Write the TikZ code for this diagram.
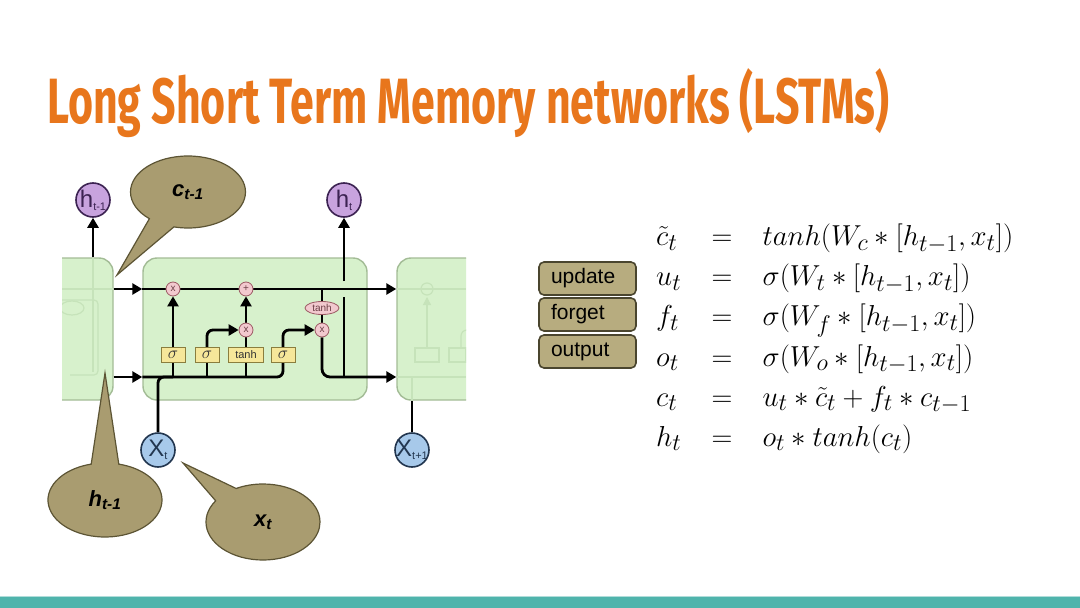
\documentclass[tikz,border=0pt]{standalone}
\usepackage{fontspec}
\usepackage{tikz}
\usetikzlibrary{arrows.meta,positioning,calc,shapes.geometric,shapes.callouts}
\setmainfont{Liberation Sans}
\newfontfamily\titlefont{Fira Sans}
\definecolor{ttlorange}{HTML}{E8761C}
\definecolor{barteal}{HTML}{4FB4AC}
\definecolor{cellfill}{HTML}{D7F1CC}
\definecolor{celledge}{HTML}{A3BC96}
\definecolor{cellfaint}{HTML}{C6E3BA}
\definecolor{opfill}{HTML}{F2C9CE}
\definecolor{opedge}{HTML}{9C5A64}
\definecolor{gatefill}{HTML}{F6E79A}
\definecolor{gateedge}{HTML}{8A7E3E}
\definecolor{hfill}{HTML}{C8A3DE}
\definecolor{hedge}{HTML}{3C2352}
\definecolor{xfill}{HTML}{A7C9EA}
\definecolor{xedge}{HTML}{22364F}
\definecolor{bubfill}{HTML}{A99C70}
\definecolor{bubedge}{HTML}{5C5434}
\definecolor{tagfill}{HTML}{B7AC7F}
\definecolor{tagedge}{HTML}{4A452E}
\pgfdeclarelayer{cells}
\pgfdeclarelayer{wires}
\pgfsetlayers{cells,wires,main}
% letter with a small subscript, kept from widening the circle
\newcommand{\circtxt}[2]{\makebox[0pt]{#1\raisebox{-3pt}{\fontsize{11}{11}\selectfont #2}}}
\newcommand{\sig}{{\fontsize{16}{16}\selectfont$\sigma$}}

\begin{document}
\begin{tikzpicture}[x=1pt, y=-1pt,
  % LSTM cells and the wiring inside the middle one
  cellbox/.style={draw=celledge, line width=1.4pt, fill=cellfill, rounded corners=14pt,
    minimum height=142pt, inner sep=0pt},
  faint/.style={draw=cellfaint, line width=1.2pt},
  wire/.style={line width=2.8pt, draw=black},
  arr/.style={wire, -{Triangle[length=10pt, width=11pt]}},
  opnode/.style={circle, draw=opedge, fill=opfill, line width=0.8pt, inner sep=0pt,
    minimum size=14pt, font=\fontsize{10}{10}\selectfont\color{opedge!70!black}},
  tanhnode/.style={ellipse, draw=opedge, fill=opfill, line width=0.8pt, inner sep=0pt,
    minimum width=34pt, minimum height=13pt, font=\fontsize{10}{10}\selectfont\color{opedge!70!black}},
  gatebox/.style={rectangle, draw=gateedge, fill=gatefill, line width=0.9pt, inner sep=0pt,
    minimum width=24pt, minimum height=15pt, font=\fontsize{11}{11}\selectfont\color{black!80}},
  % states and inputs
  hstate/.style={circle, draw=hedge, fill=hfill, line width=1.6pt, inner sep=0pt,
    minimum size=34pt, font=\fontsize{24}{24}\selectfont\color{hedge}},
  xinput/.style={circle, draw=xedge, fill=xfill, line width=1.6pt, inner sep=0pt,
    minimum size=34pt, font=\fontsize{24}{24}\selectfont\color{xedge}},
  % speech bubbles and tags
  bubble/.style={ellipse callout, draw=bubedge, fill=bubfill, line width=1.2pt,
    callout pointer arc=28, inner sep=0pt,
    font=\fontsize{22}{22}\selectfont\bfseries\itshape},
  tagbox/.style={rectangle, rounded corners=5pt, draw=tagedge, fill=tagfill, line width=1.6pt,
    minimum height=33pt, text width=73pt, inner xsep=12pt, align=left,
    font=\fontsize{21}{21}\selectfont},
]
\useasboundingbox (0,0) rectangle (1080,608);

% title and bottom band
\node[anchor=base west, inner sep=0pt, text=ttlorange,
  font={\titlefont\bfseries\fontsize{64}{64}\selectfont}] (title) at (47,123)
  {\scalebox{0.67}[1]{Long Short Term Memory networks (LSTMs)}};
\fill[barteal] (0,597) rectangle (1080,608);
\draw[barteal!45, line width=1pt] (0,596.5) -- (1080,596.5);

% cells (side ones cut off by the picture edge)
\begin{pgfonlayer}{cells}
  \fill[white] (0,0) rectangle (1080,596);
  \begin{scope}
    \clip (62,150) rectangle (466,420);
    \node[cellbox, minimum width=83pt] (lcell) at (71.5,329) {};
    \node[cellbox, minimum width=224pt] (mcell) at (255,329) {};
    \node[cellbox, minimum width=100pt] (rcell) at (447,329) {};
    % faded insides of the neighbours
    \draw[faint] (93,258) -- (93,372);
    \draw[faint] (62,289) -- (113,289);
    \draw[faint, rounded corners=4pt] (62,300) -- (98,300) -- (98,375) -- (70,375);
    \draw[faint] (72,308) ellipse (12 and 7);
    \draw[faint] (397,289) -- (466,289);
    \draw[faint] (397,377) -- (466,377);
    \draw[faint, -{Triangle[length=8pt, width=8pt]}] (427,348) -- (427,297);
    \draw[faint] (427,289) circle (6);
    \draw[faint] (415,348) rectangle (439,362);
    \draw[faint] (449,348) rectangle (466,362);
    \draw[faint, rounded corners=6pt] (461,348) -- (461,330) -- (466,330);
    \draw[faint] (412,377) -- (412,400);
  \end{scope}
\end{pgfonlayer}

% pointwise ops and gates
\node[opnode] (mulf) at (173,289) {x};
\node[opnode] (addc) at (246,289) {+};
\node[opnode] (mulu) at (246,330) {x};
\node[tanhnode] (tanhc) at (322,308) {tanh};
\node[opnode] (mulo) at (322,330) {x};
\node[gatebox] (gf) at (173,355) {\sig};
\node[gatebox] (gu) at (207,355) {\sig};
\node[gatebox, minimum width=35pt] (gc) at (246,355) {tanh};
\node[gatebox] (go) at (283,355) {\sig};
\coordinate (bus) at (0,377);

\node[hstate] (hprev) at (93,200) {\circtxt{h}{t-1}};
\node[hstate] (hcur) at (344,200) {\circtxt{h}{t}};
\node[xinput] (xcur) at (158,450) {\circtxt{X}{t}};
\node[xinput] (xnext) at (412,450) {\circtxt{X}{t+1}};

\begin{pgfonlayer}{wires}
  \draw[arr] (lcell.east |- mulf) -- (mcell.west |- mulf);
  \draw[arr] (lcell.east |- bus) -- (mcell.west |- bus);
  \draw[arr] (mcell.west |- mulf) -- (rcell.west |- mulf);
  \draw[wire, rounded corners=6pt] (mcell.west |- bus) -| (go.south);
  \foreach \g in {gf,gu,gc}
    \draw[wire] (\g.south) -- (\g.south |- bus);
  \draw[wire, rounded corners=6pt] (xcur.north) |- (gf.south |- bus);
  \draw[arr] (gf.north) -- (mulf.south);
  \draw[arr, rounded corners=6pt] (gu.north) |- (mulu.west);
  \draw[wire] (gc.north) -- (mulu.south);
  \draw[arr] (mulu.north) -- (addc.south);
  \draw[arr, rounded corners=6pt] (go.north) |- (mulo.west);
  \draw[wire] (tanhc |- mulf) -- (tanhc.north);
  \draw[wire] (tanhc.south) -- (mulo.north);
  \draw[arr, rounded corners=8pt] (mulo.south) |- (rcell.west |- bus);
  \draw[wire] (hcur |- bus) -- ($(hcur |- mulf)+(0,8)$);
  \draw[arr] ($(hcur |- mulf)+(0,-8)$) -- (hcur.south);
  \draw[arr] (lcell.north -| hprev) -- (hprev.south);
  \draw[wire] (xnext.north) -- (rcell.south -| xnext);
\end{pgfonlayer}

% speech bubbles
\coordinate (ctip) at (117,275);
\coordinate (htip) at (105,373);
\coordinate (xtip) at (183,463);
\node[bubble, minimum width=115pt, minimum height=72pt, callout absolute pointer={(ctip)}]
  (cbub) at (188,192) {c\textsubscript{t-1}};
\node[bubble, minimum width=114pt, minimum height=74pt, callout absolute pointer={(htip)}]
  (hbub) at (105,500) {h\textsubscript{t-1}};
\node[bubble, minimum width=114pt, minimum height=76pt, callout absolute pointer={(xtip)}]
  (xbub) at (263,522) {x\textsubscript{t}};

% gate tags
\node[tagbox] (tupd) at (587.5,278.5) {update};
\node[tagbox] (tfgt) at (587.5,314.5) {forget};
\node[tagbox] (tout) at (587.5,351.5) {output};

% equations
\node[anchor=west, inner sep=0pt, font=\fontsize{24.88}{34.5}\selectfont] (eqs) at (656,338)
  {\scalebox{1.16}{$\begin{array}{@{}l@{\hspace{26pt}}c@{\hspace{26pt}}l@{}}
    \tilde{c}_t & = & tanh(W_c * [h_{t-1}, x_t]) \\
    u_t & = & \sigma(W_t * [h_{t-1}, x_t]) \\
    f_t & = & \sigma(W_f * [h_{t-1}, x_t]) \\
    o_t & = & \sigma(W_o * [h_{t-1}, x_t]) \\
    c_t & = & u_t * \tilde{c}_t + f_t * c_{t-1} \\
    h_t & = & o_t * tanh(c_t)
  \end{array}$}};
\end{tikzpicture}
\end{document}
